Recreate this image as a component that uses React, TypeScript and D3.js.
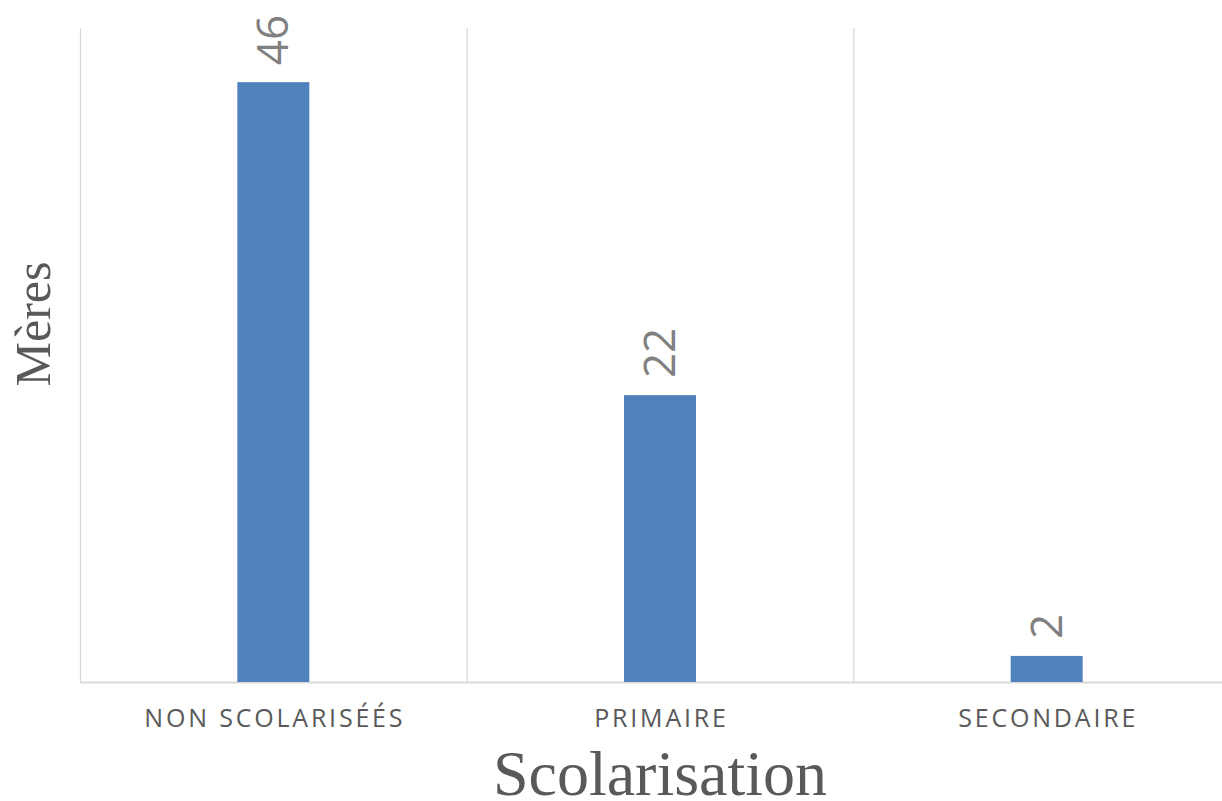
import { useRef, useEffect } from "react";
import * as d3 from "d3";

const categories = ["NON SCOLARISÉÉS", "PRIMAIRE", "SECONDAIRE"];
const meres = [46, 22, 2];
const yTitle = "Mères";
const xTitle = "Scolarisation";

function App() {
  const svgRef = useRef<SVGSVGElement>(null);

  useEffect(() => {
    const w = 1222;
    const h = 801;
    const svg = d3.select(svgRef.current).attr("width", w).attr("height", h);
    svg.selectAll("*").remove();

    const x = d3.scaleBand().domain(categories).range([80, 1240]).padding(0);
    const y = d3.scaleLinear().domain([0, 50]).range([682, 30]);
    const barW = 72;

    // vertical gridlines between categories
    const edges = categories.map((c) => x(c) as number);
    svg.append("g")
      .selectAll("line")
      .data(edges)
      .enter()
      .append("line")
      .attr("x1", (d) => d + 0.5)
      .attr("x2", (d) => d + 0.5)
      .attr("y1", 28)
      .attr("y2", y(0))
      .attr("stroke", "#d9d9d9")
      .attr("stroke-width", 1.3);

    // baseline
    svg.append("line")
      .attr("x1", 80)
      .attr("x2", w)
      .attr("y1", y(0) + 0.5)
      .attr("y2", y(0) + 0.5)
      .attr("stroke", "#d9d9d9")
      .attr("stroke-width", 2);

    const cx = (c: string) => (x(c) as number) + x.bandwidth() / 2;

    svg.append("g")
      .selectAll("rect")
      .data(meres)
      .enter()
      .append("rect")
      .attr("x", (d, i) => cx(categories[i]) - barW / 2)
      .attr("y", (d) => y(d))
      .attr("width", barW)
      .attr("height", (d) => y(0) - y(d))
      .attr("fill", "#4f81bd");

    // value labels, rotated
    svg.append("g")
      .selectAll("text")
      .data(meres)
      .enter()
      .append("text")
      .attr("transform", (d, i) => `translate(${cx(categories[i]) + 15},${y(d) - 17}) rotate(-90)`)
      .attr("text-anchor", "start")
      .attr("font-family", "'Open Sans', sans-serif")
      .attr("font-size", 44)
      .attr("fill", "#808080")
      .text((d) => d);

    // category labels
    svg.append("g")
      .selectAll("text")
      .data(categories)
      .enter()
      .append("text")
      .attr("x", (d) => cx(d) + 1.5)
      .attr("y", 727)
      .attr("text-anchor", "middle")
      .attr("font-family", "'Open Sans', sans-serif")
      .attr("font-size", 25)
      .attr("letter-spacing", 2.8)
      .attr("fill", "#595959")
      .text((d) => d);

    svg.append("text")
      .attr("x", 660)
      .attr("y", 795)
      .attr("text-anchor", "middle")
      .attr("font-family", "'Liberation Serif', 'Times New Roman', serif")
      .attr("font-size", 64)
      .attr("fill", "#595959")
      .text(xTitle);

    svg.append("text")
      .attr("transform", "translate(50,324) rotate(-90)")
      .attr("text-anchor", "middle")
      .attr("font-family", "'Liberation Serif', 'Times New Roman', serif")
      .attr("font-size", 50)
      .attr("fill", "#595959")
      .text(yTitle);
  }, []);

  return (
    <div>
      <svg ref={svgRef} style={{ position: "absolute", left: 0, top: 0, background: "#fff" }} />
    </div>
  );
}

export default App;
